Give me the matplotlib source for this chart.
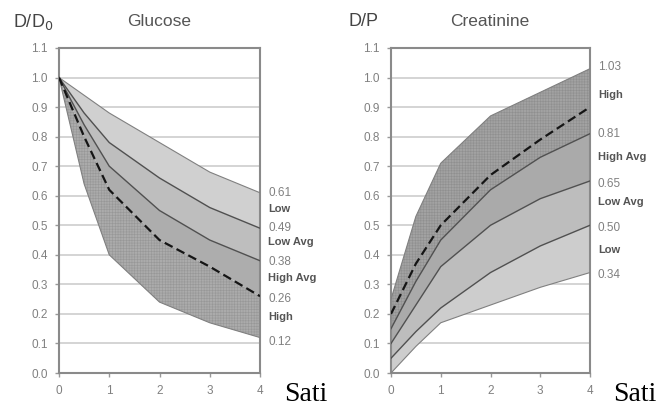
import matplotlib
matplotlib.use("Agg")
import matplotlib.pyplot as plt
from matplotlib.transforms import blended_transform_factory

plt.rcParams['font.family'] = ['Liberation Sans', 'DejaVu Sans']
plt.rcParams['hatch.linewidth'] = 0.4

hours = [0, 0.5, 1, 2, 3, 4]
xticks = [0, 1, 2, 3, 4]
yticks = [0.0, 0.1, 0.2, 0.3, 0.4, 0.5, 0.6, 0.7, 0.8, 0.9, 1.0, 1.1]

# Glucose D/D0 curves (top to bottom)
glu_upper = [1.0, 0.94, 0.88, 0.78, 0.68, 0.61]
glu_lowavg = [1.0, 0.88, 0.78, 0.66, 0.56, 0.49]
glu_highavg = [1.0, 0.84, 0.70, 0.55, 0.45, 0.38]
glu_dashed = [1.0, 0.80, 0.62, 0.45, 0.36, 0.26]
glu_lower = [1.0, 0.64, 0.40, 0.24, 0.17, 0.12]

# Creatinine D/P curves (top to bottom)
cr_upper = [0.25, 0.53, 0.71, 0.87, 0.95, 1.03]
cr_dashed = [0.20, 0.37, 0.50, 0.67, 0.79, 0.90]
cr_highavg = [0.15, 0.31, 0.45, 0.62, 0.73, 0.81]
cr_lowavg = [0.10, 0.23, 0.36, 0.50, 0.59, 0.65]
cr_low = [0.05, 0.14, 0.22, 0.34, 0.43, 0.50]
cr_lower = [0.00, 0.09, 0.17, 0.23, 0.29, 0.34]

glu_labels = [("0.61", 0.61, False), ("Low", 0.555, True), ("0.49", 0.49, False),
              ("Low Avg", 0.445, True), ("0.38", 0.375, False), ("High Avg", 0.32, True),
              ("0.26", 0.25, False), ("High", 0.19, True), ("0.12", 0.105, False)]
cr_labels = [("1.03", 1.035, False), ("High", 0.94, True), ("0.81", 0.81, False),
             ("High Avg", 0.73, True), ("0.65", 0.64, False), ("Low Avg", 0.58, True),
             ("0.50", 0.49, False), ("Low", 0.415, True), ("0.34", 0.33, False)]

W, H = 661, 407
fig = plt.figure(figsize=(W / 100, H / 100), dpi=100)

axL = fig.add_axes([59 / W, (H - 373) / H, 201 / W, 325 / H])
axR = fig.add_axes([391 / W, (H - 373) / H, 199 / W, 325 / H])

def style(ax):
    ax.set_xlim(0, 4)
    ax.set_ylim(0, 1.1)
    ax.set_xticks(xticks)
    ax.set_xticklabels([str(t) for t in xticks])
    ax.set_yticks(yticks)
    ax.set_yticklabels([f"{t:.1f}" for t in yticks])
    ax.tick_params(axis='both', labelsize=8.5, labelcolor='#808080', color='#999999',
                   length=3, width=1, direction='out')
    ax.tick_params(axis='x', pad=6)
    ax.tick_params(axis='y', pad=5)
    for s in ax.spines.values():
        s.set_color('#8a8a8a')
        s.set_linewidth(1.5)
    ax.yaxis.grid(True, color='#d4d4d4', linewidth=1.4)
    ax.set_axisbelow(True)

style(axL)
style(axR)

# Glucose bands
axL.fill_between(hours, glu_lowavg, glu_upper, facecolor='#d0d0d0', edgecolor='none', zorder=2)
axL.fill_between(hours, glu_highavg, glu_lowavg, facecolor='#bebebe', edgecolor='none', zorder=2)
axL.fill_between(hours, glu_dashed, glu_highavg, facecolor='#adadad', edgecolor='none', zorder=2)
axL.fill_between(hours, glu_lower, glu_dashed, facecolor='#ababab', edgecolor='#979797',
                 hatch='++++++', linewidth=0, zorder=2)
axL.plot(hours, glu_upper, color='#808080', lw=0.8, zorder=3)
axL.plot(hours, glu_lowavg, color='#505050', lw=1.0, zorder=3)
axL.plot(hours, glu_highavg, color='#505050', lw=1.0, zorder=3)
axL.plot(hours, glu_dashed, color='#151515', lw=1.6, ls=(0, (4, 2)), zorder=4)
axL.plot(hours, glu_lower, color='#808080', lw=0.8, zorder=3)

# Creatinine bands
axR.fill_between(hours, cr_lower, cr_low, facecolor='#cdcdcd', edgecolor='none', zorder=2)
axR.fill_between(hours, cr_low, cr_lowavg, facecolor='#bdbdbd', edgecolor='none', zorder=2)
axR.fill_between(hours, cr_lowavg, cr_highavg, facecolor='#aaaaaa', edgecolor='none', zorder=2)
axR.fill_between(hours, cr_highavg, cr_upper, facecolor='#a2a2a2', edgecolor='#8f8f8f',
                 hatch='++++++', linewidth=0, zorder=2)
axR.plot(hours, cr_upper, color='#808080', lw=0.8, zorder=3)
axR.plot(hours, cr_highavg, color='#505050', lw=1.0, zorder=3)
axR.plot(hours, cr_lowavg, color='#505050', lw=1.0, zorder=3)
axR.plot(hours, cr_low, color='#505050', lw=1.0, zorder=3)
axR.plot(hours, cr_lower, color='#808080', lw=0.8, zorder=3)
axR.plot(hours, cr_dashed, color='#151515', lw=1.6, ls=(0, (4, 2)), zorder=4)

def side_labels(ax, labels):
    tr = blended_transform_factory(ax.transAxes, ax.transData)
    for txt, y, bold in labels:
        ax.text(1.04, y, txt, transform=tr, ha='left', va='center',
                fontsize=8 if bold else 8.5,
                fontweight='bold' if bold else 'normal',
                color='#555555' if bold else '#808080', clip_on=False)

side_labels(axL, glu_labels)
side_labels(axR, cr_labels)

# Headers
fig.text(13 / W, 1 - 22 / H, r"D/D$_0$", fontsize=13, color='#444444', ha='left', va='center')
fig.text(159 / W, 1 - 22 / H, "Glucose", fontsize=12.5, color='#555555', ha='center', va='center')
fig.text(348 / W, 1 - 22 / H, "D/P", fontsize=13, color='#444444', ha='left', va='center')
fig.text(490 / W, 1 - 22 / H, "Creatinine", fontsize=12.5, color='#555555', ha='center', va='center')

# Cropped caption fragments
fig.text(284 / W, 1 - 401 / H, "Sati", fontsize=20, family='Liberation Serif', color='black',
         ha='left', va='baseline')
fig.text(613 / W, 1 - 401 / H, "Sati", fontsize=20, family='Liberation Serif', color='black',
         ha='left', va='baseline')

fig.savefig("out.png", dpi=100)
